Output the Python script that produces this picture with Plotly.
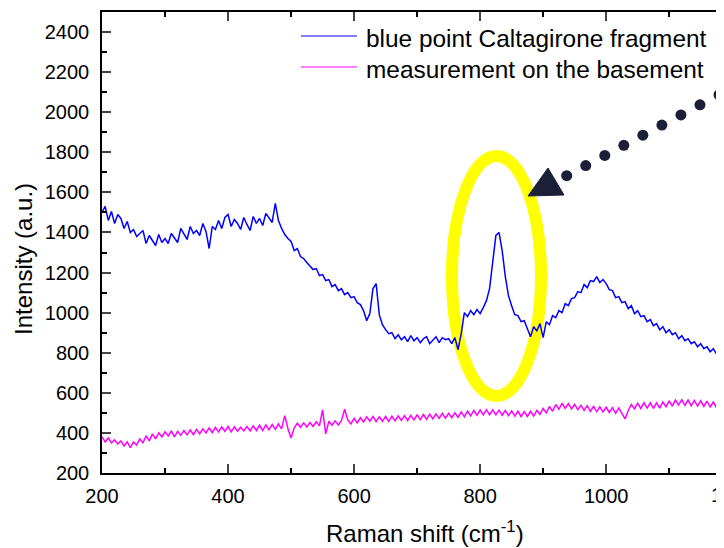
import plotly.graph_objects as go

# ---------------- data ----------------
RAMAN_SHIFT = list(range(200, 1190, 5))  # cm^-1 grid, 5 cm^-1 step

BLUE_POINT = [
    1500, 1530, 1460, 1505, 1445, 1490, 1470, 1420, 1455, 1400,
    1415, 1380, 1395, 1410, 1345, 1385, 1360, 1335, 1390, 1350,
    1370, 1345, 1395, 1375, 1350, 1420, 1390, 1365, 1430, 1395,
    1410, 1385, 1445, 1405, 1320, 1430, 1415, 1460, 1420, 1475,
    1490, 1430, 1465, 1445, 1415, 1475, 1440, 1410, 1480, 1445,
    1470, 1435, 1495, 1475, 1450, 1545, 1460, 1420, 1390, 1370,
    1355, 1310, 1320, 1280, 1270, 1250, 1230, 1215, 1220, 1185,
    1190, 1160, 1165, 1130, 1140, 1110, 1120, 1090, 1100, 1075,
    1080, 1050, 1040, 1010, 960, 995, 1120, 1145, 990, 940,
    915, 895, 900, 870, 890, 865, 880, 855, 885, 860,
    875, 850, 870, 880, 845, 865, 880, 850, 875, 865,
    870, 845, 875, 815, 895, 1000, 980, 1010, 990, 1015,
    995, 1025, 1060, 1120, 1240, 1385, 1400, 1310, 1180, 1085,
    1035, 990, 985, 955, 960, 920, 880, 930, 910, 945,
    875, 955, 940, 985, 975, 1010, 1000, 1045, 1035, 1070,
    1075, 1105, 1100, 1140, 1125, 1160, 1155, 1180, 1150, 1165,
    1145, 1115, 1110, 1075, 1080, 1050, 1055, 1020, 1035, 995,
    1010, 980, 985, 955, 965, 935, 945, 915, 930, 900,
    915, 890, 900, 870, 885, 860, 870, 845, 855, 830,
    845, 820, 830, 805, 820, 795, 815, 805,
]

BASEMENT = [
    380, 355, 375, 350, 365, 345, 360, 335, 355, 326,
    355, 340, 370, 350, 385, 360, 395, 370, 400, 380,
    405, 385, 410, 380, 408, 388, 412, 390, 415, 392,
    418, 395, 420, 400, 425, 402, 428, 405, 430, 408,
    432, 405, 430, 408, 428, 410, 432, 410, 435, 412,
    438, 412, 440, 415, 442, 418, 445, 420, 486, 422,
    375, 425, 448, 428, 450, 430, 452, 432, 455, 435,
    515, 395, 458, 438, 460, 440, 462, 518, 465, 445,
    472, 450, 476, 455, 480, 458, 482, 456, 480, 458,
    482, 458, 484, 460, 485, 462, 486, 462, 488, 465,
    490, 466, 492, 468, 494, 470, 495, 472, 497, 474,
    498, 476, 500, 478, 505, 480, 508, 485, 512, 488,
    515, 490, 516, 490, 515, 490, 514, 488, 512, 486,
    510, 484, 508, 482, 506, 482, 508, 484, 512, 492,
    522, 500, 532, 508, 542, 518, 548, 522, 546, 520,
    542, 516, 538, 512, 536, 508, 532, 506, 530, 505,
    528, 502, 526, 498, 524, 500, 470, 512, 542, 520,
    548, 522, 550, 524, 550, 522, 550, 524, 554, 530,
    560, 534, 564, 540, 566, 538, 564, 536, 562, 534,
    560, 532, 558, 528, 554, 526, 552, 525,
]

SERIES_NAMES = ["blue point Caltagirone fragment", "measurement on the basement"]
SERIES_COLORS = ["#0000ff", "#ff00ff"]

X_TICKS = [200, 400, 600, 800, 1000]
Y_TICKS = [200, 400, 600, 800, 1000, 1200, 1400, 1600, 1800, 2000, 2200, 2400]
CUT_TICK_LABEL = "1200"

X_TITLE = "Raman shift (cm<sup>-1</sup>)"
Y_TITLE = "Intensity (a.u.)"

# ---------------- layout geometry ----------------
OFF = 8                      # page body margin
FW, FH = 716, 540            # figure size (fits the 724x548 window)
M_L, M_R, M_T, M_B = 94, 0, 4, 75
X_RANGE = [200, 1187]
Y_RANGE = [200, 2500]
FONT = "Arial, Liberation Sans, sans-serif"
PW, PH = FW - M_L - M_R, FH - M_T - M_B


def xp(sx):   # screen px -> paper x
    return (sx - OFF - M_L) / PW


def yp(sy):   # screen px -> paper y
    return (FH - M_B - (sy - OFF)) / PH


def xd(sx):   # screen px -> data x
    return X_RANGE[0] + xp(sx) * (X_RANGE[1] - X_RANGE[0])


def yd(sy):   # screen px -> data y
    return Y_RANGE[0] + yp(sy) * (Y_RANGE[1] - Y_RANGE[0])


fig = go.Figure()
for vals, name, col in [(BLUE_POINT, SERIES_NAMES[0], SERIES_COLORS[0]),
                        (BASEMENT, SERIES_NAMES[1], SERIES_COLORS[1])]:
    fig.add_trace(go.Scatter(x=RAMAN_SHIFT, y=vals, mode="lines", name=name,
                             line=dict(color=col, width=1.5), showlegend=False))

shapes = []
# yellow highlight ellipse
ecx, ecy, erx, ery = 496.5, 276, 44.5, 120
shapes.append(dict(type="circle", xref="x", yref="y", layer="below",
                   x0=xd(ecx - erx), x1=xd(ecx + erx), y0=yd(ecy + ery), y1=yd(ecy - ery),
                   line=dict(color="#ffff00", width=12)))
# dotted arrow
ARROW_COL = "#1b1f38"
tri = [(528, 196), (548, 168), (564, 195)]
path = "M " + " L ".join(f"{xd(a)},{yd(b)}" for a, b in tri) + " Z"
shapes.append(dict(type="path", xref="x", yref="y", path=path,
                   fillcolor=ARROW_COL, line=dict(color=ARROW_COL, width=1)))
r = 5.5
for k in range(10):
    cx, cy = 566.7 + 19.04 * k, 175.7 - 10.12 * k
    shapes.append(dict(type="circle", xref="x", yref="y",
                       x0=xd(cx - r), x1=xd(cx + r), y0=yd(cy + r), y1=yd(cy - r),
                       fillcolor=ARROW_COL, line=dict(width=0)))
# legend samples
for i, sy in enumerate([36, 67]):
    shapes.append(dict(type="line", xref="paper", yref="paper",
                       x0=xp(301), x1=xp(357), y0=yp(sy), y1=yp(sy),
                       line=dict(color=SERIES_COLORS[i], width=1)))

annotations = []
for i, sy in enumerate([38, 69]):
    annotations.append(dict(text=SERIES_NAMES[i], xref="paper", yref="paper",
                            x=xp(364), y=yp(sy), xanchor="left", yanchor="middle",
                            showarrow=False, font=dict(size=24.4, color="black", family=FONT)))
annotations.append(dict(text=X_TITLE, xref="paper", yref="paper", x=xp(424.5), y=yp(532),
                        xanchor="center", yanchor="middle", showarrow=False,
                        font=dict(size=24, color="black", family=FONT)))
annotations.append(dict(text=Y_TITLE, xref="paper", yref="paper", x=xp(23), y=yp(259),
                        xanchor="center", yanchor="middle", textangle=-90, showarrow=False,
                        font=dict(size=24, color="black", family=FONT)))
annotations.append(dict(text=CUT_TICK_LABEL, xref="paper", yref="paper", x=xp(709), y=yp(495),
                        xanchor="left", yanchor="middle", showarrow=False,
                        font=dict(size=20, color="black", family=FONT)))

fig.update_layout(
    width=FW, height=FH,
    margin=dict(l=M_L, r=M_R, t=M_T, b=M_B, pad=0),
    paper_bgcolor="white", plot_bgcolor="white",
    font=dict(family=FONT, color="black", size=20),
    shapes=shapes, annotations=annotations,
    xaxis=dict(range=X_RANGE, tickvals=X_TICKS, ticks="inside", ticklen=9, tickwidth=1.5,
               showline=True, linewidth=1.5, linecolor="black", mirror="ticks",
               showgrid=False, zeroline=False, tickfont=dict(size=20),
               ticklabelstandoff=4,
               minor=dict(dtick=100, tick0=200, ticks="inside", ticklen=5, tickwidth=1.5,
                          tickcolor="black", showgrid=False)),
    yaxis=dict(range=Y_RANGE, tickvals=Y_TICKS, ticks="inside", ticklen=9, tickwidth=1.5,
               showline=True, linewidth=1.5, linecolor="black", mirror=False,
               showgrid=False, zeroline=False, tickfont=dict(size=20),
               ticklabelstandoff=7,
               minor=dict(dtick=100, tick0=200, ticks="inside", ticklen=5, tickwidth=1.5,
                          tickcolor="black", showgrid=False)),
)

fig.write_html("out.html")
